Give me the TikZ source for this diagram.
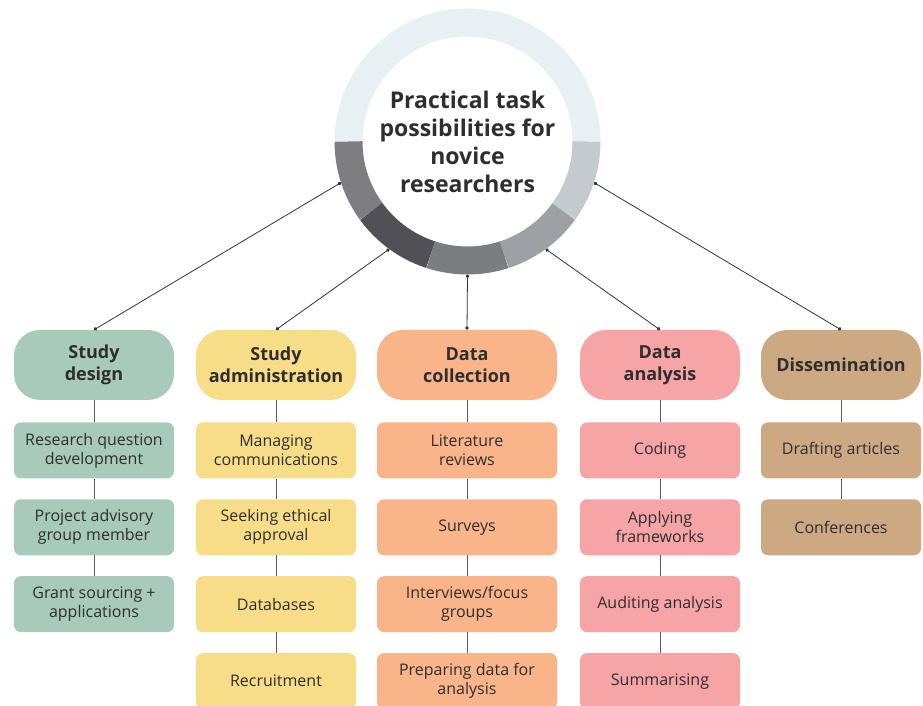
\documentclass[tikz,border=0pt]{standalone}
\usepackage{fontspec}
\setmainfont{Open Sans}
\usetikzlibrary{positioning,arrows.meta}
\definecolor{ringtop}{HTML}{E7F1F3}
\definecolor{ringa}{HTML}{7D7D82}
\definecolor{ringb}{HTML}{505056}
\definecolor{ringc}{HTML}{7C7D81}
\definecolor{ringd}{HTML}{9DA1A5}
\definecolor{ringe}{HTML}{C4CBCF}
\definecolor{designgreen}{HTML}{A7CABA}
\definecolor{adminyellow}{HTML}{F8DD88}
\definecolor{collectorange}{HTML}{F9B589}
\definecolor{analysispink}{HTML}{F6A4A5}
\definecolor{dissemtan}{HTML}{CDA983}
\definecolor{inkgrey}{HTML}{2E2E30}

\begin{document}
\begin{tikzpicture}[x=1pt, y=1pt,
    head/.style={rounded corners=26pt, minimum width=160pt, minimum height=70pt, align=center,
      text=inkgrey, font=\fontsize{18}{22.5}\selectfont\bfseries, inner sep=0pt},
    task/.style={rounded corners=7pt, minimum width=160pt, minimum height=56pt, align=center,
      text=inkgrey, font=\fontsize{16}{19}\selectfont, inner sep=0pt},
    wide/.style={minimum width=180pt},
    stem/.style={draw=black!65, line width=0.9pt},
    spoke/.style={draw=black!80, line width=0.8pt, arrows={Circle[length=3.5pt]-Circle[length=3.5pt]}}]
  \useasboundingbox (0,0) rectangle (923,706);

  % Hub ring
  \node[circle, minimum size=266pt, inner sep=0pt, outer sep=0pt] (hub) at (467.5,564.5) {};
  \foreach \a/\b/\c in {0/180/ringtop, 180/216/ringa, 216/252/ringb, 252/288/ringc, 288/324/ringd, 324/360/ringe}
    \draw[line width=28pt, \c] ([shift={(\a:119)}]hub.center) arc (\a:\b:119);
  \node[align=center, text=inkgrey, font=\fontsize{23}{28}\selectfont\bfseries] (title) at (hub.center)
    {Practical task\\possibilities for\\novice\\researchers};

  % Study design
  \node[head, fill=designgreen] (design) at (94,341) {Study\\design};
  \node[task, fill=designgreen, below=22pt of design] (design1) {Research question\\development};
  \node[task, fill=designgreen, below=20.5pt of design1] (design2) {Project advisory\\group member};
  \node[task, fill=designgreen, below=20.5pt of design2] (design3) {Grant sourcing +\\applications};

  % Study administration
  \node[head, fill=adminyellow] (admin) at (276,341) {Study\\administration};
  \node[task, fill=adminyellow, below=22pt of admin] (admin1) {Managing\\communications};
  \node[task, fill=adminyellow, below=20.5pt of admin1] (admin2) {Seeking ethical\\approval};
  \node[task, fill=adminyellow, below=20.5pt of admin2] (admin3) {Databases};
  \node[task, fill=adminyellow, below=20.5pt of admin3] (admin4) {Recruitment};

  % Data collection (wider column)
  \node[head, wide, fill=collectorange] (collect) at (467,341) {Data\\collection};
  \node[task, wide, fill=collectorange, below=22pt of collect] (collect1) {Literature\\reviews};
  \node[task, wide, fill=collectorange, below=20.5pt of collect1] (collect2) {Surveys};
  \node[task, wide, fill=collectorange, below=20.5pt of collect2] (collect3) {Interviews/focus\\groups};
  \node[task, wide, fill=collectorange, below=20.5pt of collect3] (collect4) {Preparing data for\\analysis};

  % Data analysis
  \node[head, fill=analysispink] (analysis) at (660,341) {Data\\analysis};
  \node[task, fill=analysispink, below=22pt of analysis] (analysis1) {Coding};
  \node[task, fill=analysispink, below=20.5pt of analysis1] (analysis2) {Applying\\frameworks};
  \node[task, fill=analysispink, below=20.5pt of analysis2] (analysis3) {Auditing analysis};
  \node[task, fill=analysispink, below=20.5pt of analysis3] (analysis4) {Summarising};

  % Dissemination
  \node[head, fill=dissemtan] (dissem) at (841,341) {Dissemination};
  \node[task, fill=dissemtan, below=22pt of dissem] (dissem1) {Drafting articles};
  \node[task, fill=dissemtan, below=20.5pt of dissem1] (dissem2) {Conferences};

  % Column stems
  \draw[stem] (design) -- (design1) (design1) -- (design2) (design2) -- (design3);
  \draw[stem] (admin) -- (admin1) (admin1) -- (admin2) (admin2) -- (admin3) (admin3) -- (admin4);
  \draw[stem] (collect) -- (collect1) (collect1) -- (collect2) (collect2) -- (collect3) (collect3) -- (collect4);
  \draw[stem] (analysis) -- (analysis1) (analysis1) -- (analysis2) (analysis2) -- (analysis3) (analysis3) -- (analysis4);
  \draw[stem] (dissem) -- (dissem1) (dissem1) -- (dissem2);

  % Spokes from the ring
  \draw[spoke] (hub.198) -- (design.north);
  \draw[spoke] (hub.234) -- (admin.north);
  \draw[spoke] (hub.270) -- (collect.north);
  \draw[spoke] (hub.306) -- (analysis.north);
  \draw[spoke] (hub.342) -- (dissem.north);
\end{tikzpicture}
\end{document}
